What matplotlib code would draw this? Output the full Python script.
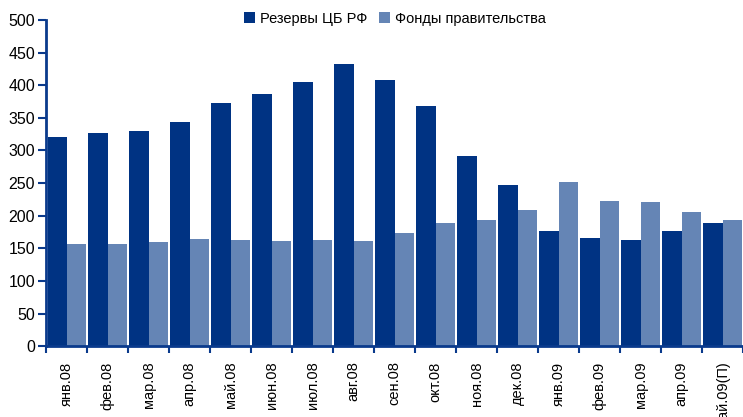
import matplotlib.pyplot as plt
import numpy as np

plt.rcParams['font.family'] = ['Liberation Sans', 'DejaVu Sans']

months = ['янв.08', 'фев.08', 'мар.08', 'апр.08', 'май.08', 'июн.08', 'июл.08',
          'авг.08', 'сен.08', 'окт.08', 'ноя.08', 'дек.08', 'янв.09', 'фев.09',
          'мар.09', 'апр.09', 'май.09(П)']
reserves = [320, 327, 330, 343, 372, 386, 405, 433, 408, 368, 291, 247, 176, 165,
            163, 176, 188]
gov_funds = [157, 157, 160, 164, 162, 161, 163, 161, 174, 188, 194, 208, 251, 222,
             221, 206, 193]

dark = '#003383'
light = '#6585b5'
axis_col = '#0a3a8c'

fig = plt.figure(figsize=(7.43, 4.17), dpi=100)
ax = fig.add_axes([0.062, 0.170, 0.938, 0.782])

x = np.arange(len(months))
w = 0.465
ax.bar(x - w / 2, reserves, width=w, color=dark, label='Резервы ЦБ РФ')
ax.bar(x + w / 2, gov_funds, width=w, color=light, label='Фонды правительства')

ax.set_xlim(-0.5, len(months) - 0.5)
ax.set_ylim(0, 500)
ax.set_yticks(range(0, 501, 50))
ax.tick_params(axis='y', labelsize=11.5, length=6, width=1.5, color=axis_col, pad=2)

ax.set_xticks(x)
ax.set_xticklabels(months, rotation=90, fontsize=10.5, va='top')
ax.set_xticks(np.arange(-0.5, len(months), 1), minor=True)
ax.tick_params(axis='x', which='major', length=0, pad=11)
ax.tick_params(axis='x', which='minor', length=5, width=1.5, color=axis_col)

for s in ['top', 'right']:
    ax.spines[s].set_visible(False)
for s in ['left', 'bottom']:
    ax.spines[s].set_color(axis_col)
    ax.spines[s].set_linewidth(2)

ax.legend(loc='upper center', bbox_to_anchor=(0.5, 1.065), ncol=2, frameon=False,
          fontsize=10.5, handlelength=0.8, handleheight=0.8, handletextpad=0.3,
          columnspacing=0.8)

fig.savefig('out.png', dpi=100)
